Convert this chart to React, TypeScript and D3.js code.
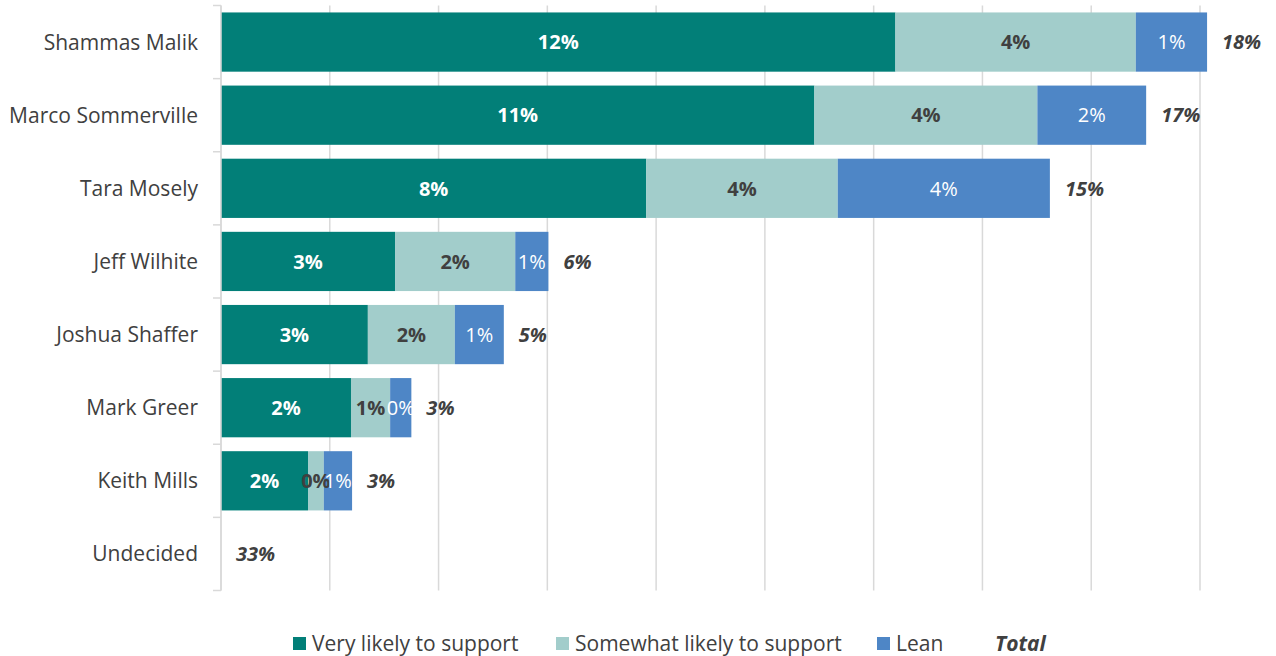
import React from "react";
import * as d3 from "d3";

const categories = [
  "Shammas Malik",
  "Marco Sommerville",
  "Tara Mosely",
  "Jeff Wilhite",
  "Joshua Shaffer",
  "Mark Greer",
  "Keith Mills",
  "Undecided",
];
const veryLikely = [12.4, 10.91, 7.82, 3.2, 2.7, 2.39, 1.6, 0];
const somewhatLikely = [4.42, 4.1, 3.52, 2.21, 1.6, 0.72, 0.29, 0];
const lean = [1.31, 2.0, 3.9, 0.61, 0.9, 0.39, 0.52, 0];
const totals = [18, 17, 15, 6, 5, 3, 3, 33];
const xTicks = [0, 2, 4, 6, 8, 10, 12, 14, 16, 18];

const seriesNames = ["Very likely to support", "Somewhat likely to support", "Lean"];
const colors = ["#027F78", "#A2CDCB", "#4E86C6"];
const labelColors = ["#FFFFFF", "#404040", "#FFFFFF"];
const labelWeights = ["bold", "bold", "normal"];

const W = 1276;
const H = 656;
const FONT = "'Open Sans', sans-serif";

export default function App() {
  const x = d3.scaleLinear().domain([0, 18]).range([221, 1200]);
  const y = d3
    .scaleBand<string>()
    .domain(categories)
    .range([5.5, 590.5])
    .paddingInner(0.19)
    .paddingOuter(0.095);

  const rows = categories.map((c, i) => ({
    c,
    vals: [veryLikely[i], somewhatLikely[i], lean[i]],
    total: totals[i],
  }));
  const stack = d3
    .stack<any>()
    .keys(["0", "1", "2"])
    .value((d: any, k: string) => d.vals[+k]);
  const stacked = stack(rows);
  const fmt = (v: number) => `${Math.round(v)}%`;
  const step = y.step();
  const bandTop = (c: string) => (y(c) as number) - (step - y.bandwidth()) / 2;

  const legendItems = [
    { x: 293, label: seriesNames[0], color: colors[0] },
    { x: 556, label: seriesNames[1], color: colors[1] },
    { x: 877, label: seriesNames[2], color: colors[2] },
  ];

  return (
    <svg
      width={W}
      height={H}
      style={{ position: "absolute", left: 0, top: 0, background: "#fff" }}
      fontFamily={FONT}
    >
      {xTicks.map((t) => (
        <line
          key={t}
          x1={x(t)}
          x2={x(t)}
          y1={5.5}
          y2={590.5}
          stroke="#D9D9D9"
          strokeWidth={1.5}
        />
      ))}
      {stacked.map((s, si) =>
        s.map((d, i) => {
          const c = categories[i];
          const w = x(d[1]) - x(d[0]);
          if (w <= 0) return null;
          return (
            <rect
              key={`${si}-${i}`}
              x={x(d[0])}
              y={y(c)}
              width={w}
              height={y.bandwidth()}
              fill={colors[si]}
            />
          );
        })
      )}
      {stacked.map((s, si) =>
        s.map((d, i) => {
          const c = categories[i];
          if (d[1] - d[0] <= 0) return null;
          return (
            <text
              key={`l${si}-${i}`}
              x={(x(d[0]) + x(d[1])) / 2}
              y={(y(c) as number) + y.bandwidth() / 2}
              dy="0.36em"
              textAnchor="middle"
              fontSize={20}
              fontWeight={labelWeights[si]}
              fill={labelColors[si]}
            >
              {fmt(d[1] - d[0])}
            </text>
          );
        })
      )}
      {rows.map((r, i) => {
        const end = stacked[2][i][1];
        return (
          <text
            key={`t${i}`}
            x={x(end) + 15}
            y={(y(r.c) as number) + y.bandwidth() / 2}
            dy="0.36em"
            fontSize={20}
            fontWeight="bold"
            fontStyle="italic"
            fill="#404040"
          >
            {`${r.total}%`}
          </text>
        );
      })}
      {/* y axis */}
      <line x1={221} x2={221} y1={5.5} y2={590.5} stroke="#D9D9D9" strokeWidth={1.5} />
      {categories.map((c) => (
        <line
          key={`tk${c}`}
          x1={213}
          x2={221}
          y1={bandTop(c)}
          y2={bandTop(c)}
          stroke="#D9D9D9"
          strokeWidth={1.5}
        />
      ))}
      <line x1={213} x2={221} y1={590.5} y2={590.5} stroke="#D9D9D9" strokeWidth={1.5} />
      {categories.map((c) => (
        <text
          key={`c${c}`}
          x={198}
          y={(y(c) as number) + y.bandwidth() / 2}
          dy="0.36em"
          textAnchor="end"
          fontSize={21}
          fill="#404040"
        >
          {c}
        </text>
      ))}
      {legendItems.map((l) => (
        <g key={l.label}>
          <rect x={l.x} y={637} width={13} height={13} fill={l.color} />
          <text x={l.x + 19} y={643.5} dy="0.36em" fontSize={21} fill="#404040">
            {l.label}
          </text>
        </g>
      ))}
      <text
        x={995}
        y={643.5}
        dy="0.36em"
        fontSize={21}
        fontWeight="bold"
        fontStyle="italic"
        fill="#404040"
      >
        Total
      </text>
    </svg>
  );
}
